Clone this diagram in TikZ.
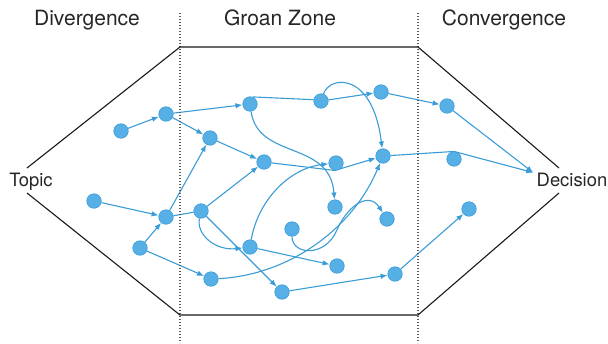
\documentclass[tikz,border=0pt]{standalone}
\usepackage{fontspec}
\setmainfont{TeX Gyre Heros}
\usetikzlibrary{arrows.meta}
\pgfdeclarelayer{bg}
\pgfsetlayers{bg,main}
\definecolor{ideablue}{RGB}{86,176,230}
\definecolor{ideaedge}{RGB}{58,156,214}
\begin{document}
\begin{tikzpicture}[x=1pt,y=-1pt,
    idea/.style={circle,fill=ideablue,draw=ideaedge,line width=0.6pt,minimum size=14.5pt,inner sep=0pt},
    flow/.style={draw=ideaedge,line width=1.1pt,-{Latex[length=7pt,width=5.5pt]}},
    tie/.style={draw=ideaedge,line width=1.1pt},
    zone/.style={draw=black!65,line width=1.2pt,dash pattern=on 1.4pt off 1.6pt},
    rim/.style={draw=black!90,line width=1.1pt},
    head/.style={anchor=base,font=\fontsize{21}{24}\selectfont,text=black!85},
    side/.style={anchor=base,font=\fontsize{18.4}{22}\selectfont,text=black!85}]
        \useasboundingbox (0,0) rectangle (608,343);
        \draw[zone] (180,13) -- (180,343);
        \draw[zone] (418,13) -- (418,343);
        \draw[rim] (27,168) -- (180,47) -- (418,47) -- (559,168);
        \draw[rim] (27,193) -- (180,315) -- (418,315) -- (559,193);
        \node[head] (div) at (87,25) {Divergence};
        \node[head] (groan) at (280,25) {Groan Zone};
        \node[head] (conv) at (504,25) {Convergence};
        \node[side] (topic) at (31,186) {Topic};
        \node[side] (dec) at (572,186) {Decision};
        \foreach \n/\x/\y in
            { 1/121/131
            , 2/166/114
            , 3/250/104
            , 4/210/138
            , 5/264/162
            , 6/94/201
            , 7/166/217
            , 8/201/211
            , 9/140/248
            , 10/250/247
            , 11/211/279
            , 12/282/292
            , 13/292/229
            , 14/321/101
            , 15/381/92
            , 16/447/106
            , 17/336/163
            , 18/383/156
            , 19/454/159
            , 20/335/207
            , 21/387/219
            , 22/469/209
            , 23/337/266
            , 24/395/274
            }
        {\node[idea] (n\n) at (\x,\y) {};}
        \begin{pgfonlayer}{bg}
        \foreach \a/\b in {1/2, 2/3, 2/4, 4/5, 6/7, 7/4, 9/7, 9/11, 8/5, 8/12, 10/23, 12/24, 24/22, 14/15, 15/16}
        {\draw[flow] (n\a) -- (n\b);}
        \draw[tie] (n7) -- (n8);
        \draw[tie] (n3.70) -- (n14.170);
        \draw[flow] (n5) -- (n17.-100) -- (n18);
        \draw[tie] (n18) -- (n19.north);
        \draw[flow] (n19.north) -- (dec.170);
        \draw[flow] (n16) -- (dec.170);
        \draw[flow] (n8) .. controls (196,235) and (216,251) .. (n10);
        \draw[flow] (n10) .. controls (258,200) and (290,168) .. (n17);
        \draw[flow] (n3) .. controls (258,160) and (330,140) .. (n20);
        \draw[flow] (n14) .. controls (330,75) and (373,72) .. (n18);
        \draw[flow] (n11) .. controls (290,275) and (353,228) .. (n18);
        \draw[flow] (n13) .. controls (292,255) and (325,258) .. (337,230) .. controls (346,208) and (368,190) .. (n21);
        \end{pgfonlayer}
\end{tikzpicture}
\end{document}
